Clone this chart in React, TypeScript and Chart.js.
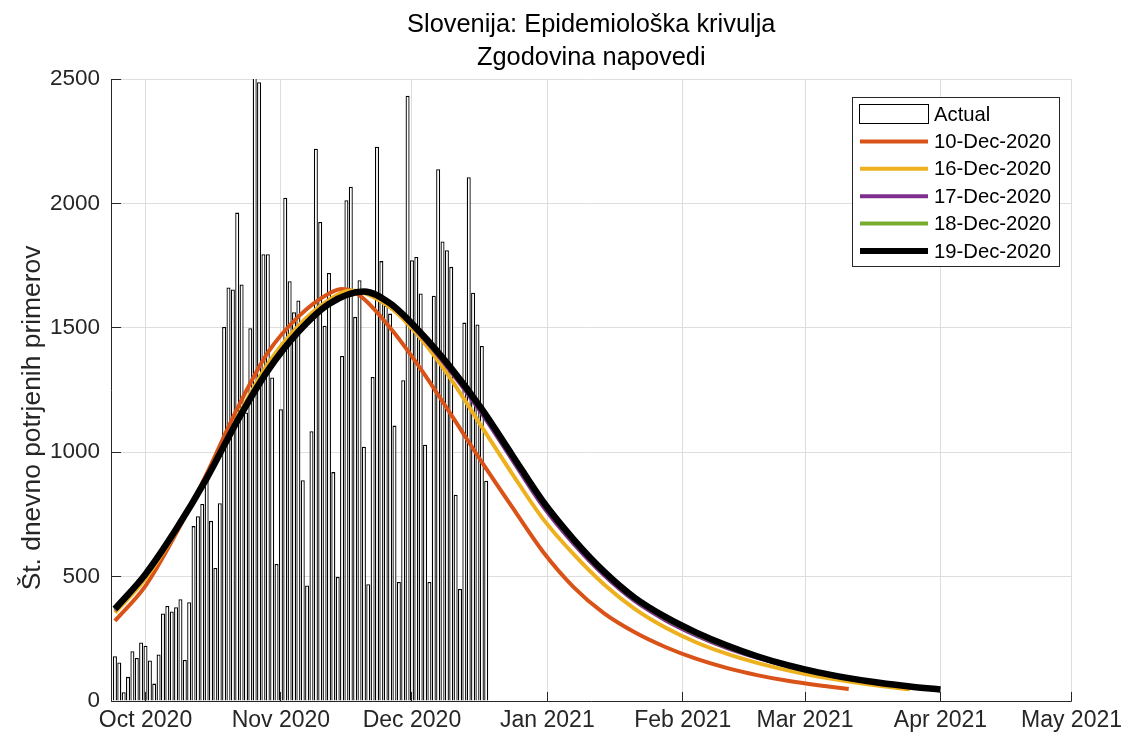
import React, { useEffect, useRef } from "react";
import { Chart, registerables } from "chart.js";

Chart.register(...registerables);

const FONT = '"Liberation Sans", Arial, Helvetica, sans-serif';

const titleLines = ["Slovenija: Epidemiološka krivulja", "Zgodovina napovedi"];
const yAxisTitle = "Št. dnevno potrjenih primerov";

const monthTickDates = ["2020-10-01", "2020-11-01", "2020-12-01", "2021-01-01", "2021-02-01", "2021-03-01", "2021-04-01", "2021-05-01"];
const monthTickLabels = ["Oct 2020", "Nov 2020", "Dec 2020", "Jan 2021", "Feb 2021", "Mar 2021", "Apr 2021", "May 2021"];
const yTickValues = [0, 500, 1000, 1500, 2000, 2500];

// Actual daily cases, one bar per day starting at this date
const actualLabel = "Actual";
const actualStartDate = "2020-09-24";
const actualCases = [
  180, 155, 35, 97, 200, 173, 235, 222, 163, 70,
  187, 352, 382, 360, 377, 409, 165, 397, 703, 743,
  792, 895, 724, 535, 795, 1503, 1662, 1654, 1963, 1674,
  1160, 1498, 2605, 2487, 1796, 1796, 1300, 551, 1173, 2023,
  1687, 1563, 1610, 887, 464, 1084, 2220, 1925, 1508, 1720,
  920, 499, 1387, 2013, 2067, 1544, 1691, 1022, 469, 1302,
  2228, 1768, 1589, 1557, 1107, 478, 1289, 2433, 1772, 1785,
  1638, 1030, 478, 1629, 2137, 1847, 1812, 1745, 829, 450,
  1521, 2105, 1641, 1513, 1427, 885,
];

const forecastLabels = ["10-Dec-2020", "16-Dec-2020", "17-Dec-2020", "18-Dec-2020", "19-Dec-2020"];
const forecastColors = ["#D95319", "#EDB120", "#7E2F8E", "#77AC30", "#000000"];

const dates10Dec = ["2020-09-24", "2020-10-01", "2020-10-08", "2020-10-15", "2020-10-22", "2020-10-29", "2020-11-05", "2020-11-12", "2020-11-15", "2020-11-19", "2020-11-26", "2020-12-03", "2020-12-10", "2020-12-17", "2020-12-24", "2020-12-31", "2021-01-07", "2021-01-14", "2021-01-21", "2021-01-28", "2021-02-04", "2021-02-11", "2021-02-18", "2021-02-25", "2021-03-04", "2021-03-11"];
const values10Dec = [322, 463, 673, 913, 1175, 1400, 1545, 1638, 1656, 1630, 1500, 1335, 1150, 960, 778, 600, 458, 352, 276, 217, 170, 133, 104, 81, 63, 48];

const dates16Dec = ["2020-09-24", "2020-10-01", "2020-10-08", "2020-10-15", "2020-10-22", "2020-10-29", "2020-11-05", "2020-11-12", "2020-11-17", "2020-11-26", "2020-12-03", "2020-12-10", "2020-12-17", "2020-12-24", "2020-12-31", "2021-01-07", "2021-01-14", "2021-01-21", "2021-01-28", "2021-02-04", "2021-02-11", "2021-02-18", "2021-02-25", "2021-03-04", "2021-03-11", "2021-03-18", "2021-03-25"];
const values16Dec = [355, 492, 680, 898, 1138, 1355, 1508, 1612, 1650, 1582, 1457, 1292, 1102, 912, 732, 590, 468, 370, 295, 236, 190, 153, 123, 98, 78, 61, 47];

const dates17Dec = ["2020-09-24", "2020-10-01", "2020-10-08", "2020-10-15", "2020-10-22", "2020-10-29", "2020-11-05", "2020-11-12", "2020-11-19", "2020-11-26", "2020-12-03", "2020-12-10", "2020-12-17", "2020-12-24", "2020-12-31", "2021-01-07", "2021-01-14", "2021-01-21", "2021-01-28", "2021-02-04", "2021-02-11", "2021-02-18", "2021-02-25", "2021-03-04", "2021-03-11", "2021-03-18", "2021-03-25", "2021-03-31"];
const values17Dec = [364, 505, 687, 893, 1123, 1327, 1483, 1598, 1646, 1593, 1470, 1322, 1155, 968, 782, 632, 505, 402, 325, 264, 214, 174, 140, 112, 89, 71, 56, 47];

const dates18Dec = ["2020-09-24", "2020-10-01", "2020-10-08", "2020-10-15", "2020-10-22", "2020-10-29", "2020-11-05", "2020-11-12", "2020-11-20", "2020-11-26", "2020-12-03", "2020-12-10", "2020-12-17", "2020-12-24", "2020-12-31", "2021-01-07", "2021-01-14", "2021-01-21", "2021-01-28", "2021-02-04", "2021-02-11", "2021-02-18", "2021-02-25", "2021-03-04", "2021-03-11", "2021-03-18", "2021-03-25", "2021-04-01"];
const values18Dec = [368, 508, 689, 894, 1124, 1327, 1483, 1596, 1646, 1596, 1476, 1331, 1166, 980, 795, 643, 514, 410, 332, 270, 219, 177, 142, 113, 90, 72, 57, 46];

const dates19Dec = ["2020-09-24", "2020-10-01", "2020-10-08", "2020-10-15", "2020-10-22", "2020-10-29", "2020-11-05", "2020-11-12", "2020-11-20", "2020-11-26", "2020-12-03", "2020-12-10", "2020-12-17", "2020-12-24", "2020-12-31", "2021-01-07", "2021-01-14", "2021-01-21", "2021-01-28", "2021-02-04", "2021-02-11", "2021-02-18", "2021-02-25", "2021-03-04", "2021-03-11", "2021-03-18", "2021-03-25", "2021-04-01"];
const values19Dec = [370, 510, 690, 895, 1125, 1328, 1484, 1596, 1646, 1598, 1480, 1337, 1173, 987, 802, 650, 520, 415, 338, 276, 224, 180, 144, 115, 92, 73, 58, 46];

const forecastDates = [dates10Dec, dates16Dec, dates17Dec, dates18Dec, dates19Dec];
const forecastValues = [values10Dec, values16Dec, values17Dec, values18Dec, values19Dec];
const forecastWidths = [4, 4, 4, 4, 6.5];

const ORIGIN = Date.UTC(2020, 9, 1);
function dayIndex(s: string): number {
  const [y, m, d] = s.split("-").map(Number);
  return (Date.UTC(y, m - 1, d) - ORIGIN) / 86400000;
}

const X_MIN = -7.9;
const X_MAX = dayIndex("2021-05-01");

const monthTickValues = monthTickDates.map(dayIndex);

function align(p: number) {
  return Math.round(p - 0.5) + 0.5;
}

const decorPlugin = {
  id: "decor",
  afterDatasetsDraw(chart: any) {
    const { ctx, chartArea: a, scales } = chart;
    const xs = scales.x;
    const ys = scales.y;
    ctx.save();
    ctx.strokeStyle = "#262626";
    ctx.lineWidth = 1;
    const lx = align(a.left);
    const by = align(a.bottom);
    ctx.beginPath();
    ctx.moveTo(lx, a.top);
    ctx.lineTo(lx, by);
    ctx.moveTo(lx, by);
    ctx.lineTo(a.right, by);
    const tl = 9.6;
    yTickValues.forEach((v) => {
      const py = align(ys.getPixelForValue(v));
      ctx.moveTo(lx, py);
      ctx.lineTo(lx + tl, py);
    });
    monthTickValues.forEach((v) => {
      const px = align(xs.getPixelForValue(v));
      ctx.moveTo(px, by);
      ctx.lineTo(px, by - tl);
    });
    ctx.stroke();
    ctx.restore();
  },
  afterDraw(chart: any) {
    const { ctx, chartArea: a } = chart;
    ctx.save();
    // Title
    ctx.fillStyle = "#000000";
    ctx.font = `25.4px ${FONT}`;
    ctx.textAlign = "center";
    ctx.textBaseline = "middle";
    const cx = (a.left + a.right) / 2;
    ctx.fillText(titleLines[0], cx, 25);
    ctx.fillText(titleLines[1], cx, 58);

    // Y axis title
    ctx.save();
    ctx.fillStyle = "#262626";
    ctx.font = `26.4px ${FONT}`;
    ctx.translate(33, 418);
    ctx.rotate(-Math.PI / 2);
    ctx.fillText(yAxisTitle, 0, 0);
    ctx.restore();

    // Legend
    const bx = 852.5, byy = 97.5, bw = 207, bh = 169;
    ctx.fillStyle = "#ffffff";
    ctx.fillRect(bx, byy, bw, bh);
    ctx.strokeStyle = "#262626";
    ctx.lineWidth = 1;
    ctx.strokeRect(bx, byy, bw, bh);

    const rowY = [114, 141.4, 168.8, 196.2, 223.6, 251];
    const sx0 = 860, sx1 = 928, tx = 934;
    ctx.font = `20.25px ${FONT}`;
    ctx.textAlign = "left";
    ctx.textBaseline = "middle";
    // Actual patch
    ctx.fillStyle = "#ffffff";
    ctx.fillRect(sx0 - 0.5, 104.5, sx1 - sx0 + 1, 19);
    ctx.strokeStyle = "#000000";
    ctx.strokeRect(sx0 - 0.5, 104.5, sx1 - sx0 + 1, 19);
    ctx.fillStyle = "#000000";
    ctx.fillText(actualLabel, tx, rowY[0] + 1);
    forecastLabels.forEach((lab, i) => {
      const y = rowY[i + 1];
      ctx.strokeStyle = forecastColors[i];
      ctx.lineWidth = i === 4 ? 6 : 4;
      ctx.beginPath();
      ctx.moveTo(sx0, y);
      ctx.lineTo(sx1, y);
      ctx.stroke();
      ctx.fillStyle = "#000000";
      ctx.fillText(lab, tx, y + 1);
    });
    ctx.restore();
  },
};

export default function App() {
  const ref = useRef<HTMLCanvasElement | null>(null);
  useEffect(() => {
    document.body.style.margin = "0";
    const start = dayIndex(actualStartDate);
    const barData = actualCases.map((v, i) => ({ x: start + i, y: v }));
    const lineSets = forecastLabels.map((lab, i) => ({
      type: "line" as const,
      label: lab,
      data: forecastDates[i].map((d, j) => ({ x: dayIndex(d), y: forecastValues[i][j] })),
      borderColor: forecastColors[i],
      backgroundColor: forecastColors[i],
      borderWidth: forecastWidths[i],
      pointRadius: 0,
      pointHoverRadius: 0,
      cubicInterpolationMode: "monotone" as const,
      borderCapStyle: "butt" as const,
      fill: false,
      order: 5 - i,
    }));
    const chart = new Chart(ref.current as HTMLCanvasElement, {
      type: "bar",
      data: {
        datasets: [
          {
            type: "bar" as const,
            label: actualLabel,
            data: barData as any,
            backgroundColor: "#ffffff",
            borderColor: "#000000",
            borderWidth: 1.3,
            barPercentage: 0.92,
            categoryPercentage: 1,
            order: 10,
          },
          ...(lineSets as any[]),
        ],
      },
      options: {
        animation: false,
        responsive: false,
        devicePixelRatio: 1,
        layout: { padding: { top: 79, right: 52, left: 0, bottom: 0 } },
        plugins: {
          legend: { display: false },
          tooltip: { enabled: false },
          title: { display: false },
        },
        scales: {
          x: {
            type: "linear",
            min: X_MIN,
            max: X_MAX,
            offset: false,
            afterBuildTicks: (s: any) => {
              s.ticks = monthTickValues.map((v) => ({ value: v }));
            },
            afterFit: (s: any) => {
              s.height = 37;
            },
            ticks: {
              autoSkip: false,
              maxRotation: 0,
              minRotation: 0,
              padding: 6,
              color: "#262626",
              font: { family: FONT, size: 23 },
              callback: (v: any) => {
                const idx = monthTickValues.indexOf(Number(v));
                return idx >= 0 ? monthTickLabels[idx] : "";
              },
            },
            grid: { color: "#dedede", lineWidth: 1, drawTicks: false, offset: false },
            border: { display: false },
          },
          y: {
            type: "linear",
            min: 0,
            max: 2500,
            afterBuildTicks: (s: any) => {
              s.ticks = yTickValues.map((v) => ({ value: v }));
            },
            afterFit: (s: any) => {
              s.width = 111;
            },
            ticks: {
              padding: 11,
              color: "#262626",
              font: { family: FONT, size: 22.5 },
              callback: (v: any) => String(v),
            },
            grid: { color: "#dedede", lineWidth: 1, drawTicks: false },
            border: { display: false },
          },
        },
      } as any,
      plugins: [decorPlugin],
    });
    return () => chart.destroy();
  }, []);
  return (
    <div style={{ position: "absolute", left: 0, top: 0, width: 1128, height: 738, background: "#ffffff" }}>
      <canvas ref={ref} width={1128} height={738} style={{ display: "block", width: 1128, height: 738 }} />
    </div>
  );
}
